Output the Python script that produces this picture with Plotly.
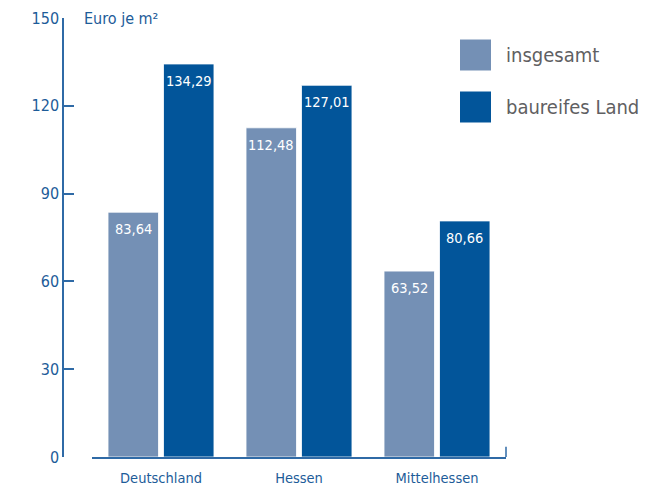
import plotly.graph_objects as go

categories = ["Deutschland", "Hessen", "Mittelhessen"]
series_names = ["insgesamt", "baureifes Land"]
insgesamt = [83.64, 112.48, 63.52]
baureifes_land = [134.29, 127.01, 80.66]
y_ticks = [0, 30, 60, 90, 120, 150]
unit_label = "Euro je m²"

colors = ["#7490b5", "#02559a"]
axis_color = "#2f6aa6"
text_blue = "#1d5c99"
FONT = "DejaVu Sans Condensed, DejaVu Sans, sans-serif"

BARGAP, GROUPGAP = 0.196, 0.09

fig = go.Figure()
for name, vals, col in zip(series_names, [insgesamt, baureifes_land], colors):
    fig.add_trace(go.Bar(
        x=categories, y=vals, name=name,
        marker=dict(color=col, line=dict(color="white", width=0.8)),
        showlegend=False, hoverinfo="x+y",
    ))

W, H = 659, 487
ml, mr, mt, mb = 63, 153, 18, 30
pw = W - ml - mr
ph = H - mt - mb

fig.update_layout(
    template="none",
    width=W, height=H, autosize=False,
    margin=dict(l=ml, r=mr, t=mt, b=mb, pad=0, autoexpand=False),
    plot_bgcolor="white", paper_bgcolor="white",
    separators=",.",
    barmode="group", bargap=BARGAP, bargroupgap=GROUPGAP,
    font=dict(family=FONT, color=text_blue),
    xaxis=dict(
        domain=[(92 - ml) / pw, 1], anchor="y", automargin=False,
        showline=True, linecolor=axis_color, linewidth=1.5,
        ticks="", showgrid=False, zeroline=False,
        tickfont=dict(size=14.5, color=text_blue, family=FONT),
        ticklabelstandoff=7,
    ),
    yaxis=dict(
        range=[0, 150], tickvals=y_ticks, anchor="free", position=0, automargin=False,
        showline=True, linecolor=axis_color, linewidth=1.5,
        ticks="inside", ticklen=10, tickwidth=1.5, tickcolor=axis_color,
        showgrid=False, zeroline=False,
        tickfont=dict(size=16, color=text_blue, family=FONT),
    ),
)

# value labels near the top inside each bar (positioned via data coords + pixel shift)
xd0 = (92 - ml) / pw
cat_px = pw * (1 - xd0) / len(categories)
slot_px = cat_px * (1 - BARGAP) / 2
for i, vals in enumerate([insgesamt, baureifes_land]):
    shift = (i - 0.5) * slot_px
    for c, v in zip(categories, vals):
        fig.add_annotation(
            x=c, y=v, xref="x", yref="y", text=f"{v:.2f}".replace(".", ","),
            showarrow=False, xshift=shift, yshift=-17, yanchor="middle",
            font=dict(size=14.5, color="white", family=FONT),
        )

# right-end small upward tick of the x baseline
fig.add_shape(type="line", xref="x domain", yref="y", x0=1, x1=1, y0=0, y1=3.5,
              line=dict(color=axis_color, width=1.5))

fig.add_annotation(text=unit_label, xref="paper", yref="y", x=(82 - ml) / pw, y=150,
                   xanchor="left", yanchor="middle", showarrow=False,
                   font=dict(size=16, color=text_blue, family=FONT))

# legend (manual, large squares)
leg_y = [55, 107]
for name, col, yc in zip(series_names, colors, leg_y):
    fig.add_shape(type="rect", xref="paper", yref="paper",
                  x0=(460 - ml) / pw, x1=(491 - ml) / pw,
                  y0=(H - mb - (yc + 15.5)) / ph, y1=(H - mb - (yc - 15.5)) / ph,
                  fillcolor=col, line=dict(width=0))
    fig.add_annotation(text=name, xref="paper", yref="paper",
                       x=(504 - ml) / pw, y=(H - mb - yc) / ph,
                       xanchor="left", yanchor="middle", showarrow=False,
                       font=dict(size=20, color="#5f6062", family=FONT))

fig.write_html("out.html", config={"displayModeBar": False},
               post_script="document.body.style.margin='0';document.body.style.padding='0';")
